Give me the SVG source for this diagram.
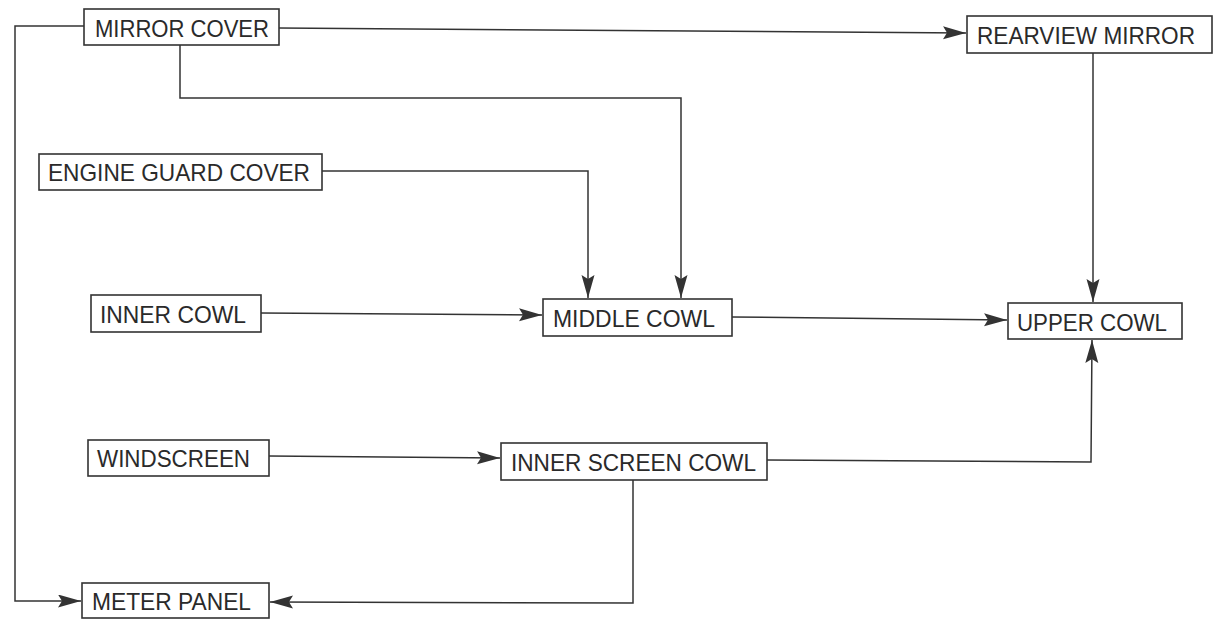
<svg xmlns="http://www.w3.org/2000/svg" width="1216" height="625" viewBox="0 0 1216 625">
<defs>
<style>
.box{fill:#fff;stroke:#333;stroke-width:1.6}
.lbl{font-family:"Liberation Sans",Arial,sans-serif;font-size:24.5px;fill:#2a2a2a}
.wire{fill:none;stroke:#333;stroke-width:1.5}
</style>
<marker id="ah" markerUnits="userSpaceOnUse" markerWidth="24" markerHeight="14" refX="23" refY="6.5" orient="auto">
<path d="M0,0 L23,6.5 L0,13 L4,6.5 z" fill="#333"/>
</marker>
</defs>
<rect width="1216" height="625" fill="#fff"/>
<g id="connectors">
<polyline class="wire" points="84,26 15,26 15,601 81,601" marker-end="url(#ah)"/>
<line class="wire" x1="279" y1="28" x2="966" y2="33" marker-end="url(#ah)"/>
<polyline class="wire" points="180,45 180,98 681,98 681,298" marker-end="url(#ah)"/>
<polyline class="wire" points="322,171 588,171 588,298" marker-end="url(#ah)"/>
<line class="wire" x1="261" y1="313" x2="542" y2="315" marker-end="url(#ah)"/>
<line class="wire" x1="732" y1="317" x2="1007" y2="320" marker-end="url(#ah)"/>
<line class="wire" x1="1093" y1="53" x2="1093" y2="302" marker-end="url(#ah)"/>
<line class="wire" x1="269" y1="456" x2="500" y2="458" marker-end="url(#ah)"/>
<polyline class="wire" points="767,460 1091,462 1092,340" marker-end="url(#ah)"/>
<polyline class="wire" points="633,480 633,603 270,602" marker-end="url(#ah)"/>
</g>
<g id="mirror-cover"><rect class="box" x="84" y="9" width="195" height="36"/><text class="lbl" x="95" y="37" textLength="174" lengthAdjust="spacingAndGlyphs">MIRROR COVER</text></g>
<g id="rearview-mirror"><rect class="box" x="967" y="16" width="245" height="37"/><text class="lbl" x="977" y="44" textLength="218" lengthAdjust="spacingAndGlyphs">REARVIEW MIRROR</text></g>
<g id="engine-guard-cover"><rect class="box" x="39" y="154" width="283" height="36"/><text class="lbl" x="48" y="181" textLength="262" lengthAdjust="spacingAndGlyphs">ENGINE GUARD COVER</text></g>
<g id="inner-cowl"><rect class="box" x="91" y="295" width="170" height="37"/><text class="lbl" x="100" y="323" textLength="146" lengthAdjust="spacingAndGlyphs">INNER COWL</text></g>
<g id="middle-cowl"><rect class="box" x="543" y="299" width="189" height="37"/><text class="lbl" x="553" y="327" textLength="162" lengthAdjust="spacingAndGlyphs">MIDDLE COWL</text></g>
<g id="upper-cowl"><rect class="box" x="1008" y="303" width="174" height="36"/><text class="lbl" x="1017" y="331" textLength="150" lengthAdjust="spacingAndGlyphs">UPPER COWL</text></g>
<g id="windscreen"><rect class="box" x="88" y="440" width="181" height="36"/><text class="lbl" x="97" y="467" textLength="153" lengthAdjust="spacingAndGlyphs">WINDSCREEN</text></g>
<g id="inner-screen-cowl"><rect class="box" x="501" y="443" width="266" height="37"/><text class="lbl" x="511" y="471" textLength="245" lengthAdjust="spacingAndGlyphs">INNER SCREEN COWL</text></g>
<g id="meter-panel"><rect class="box" x="82" y="583" width="187" height="35"/><text class="lbl" x="92" y="610" textLength="159" lengthAdjust="spacingAndGlyphs">METER PANEL</text></g>
</svg>
